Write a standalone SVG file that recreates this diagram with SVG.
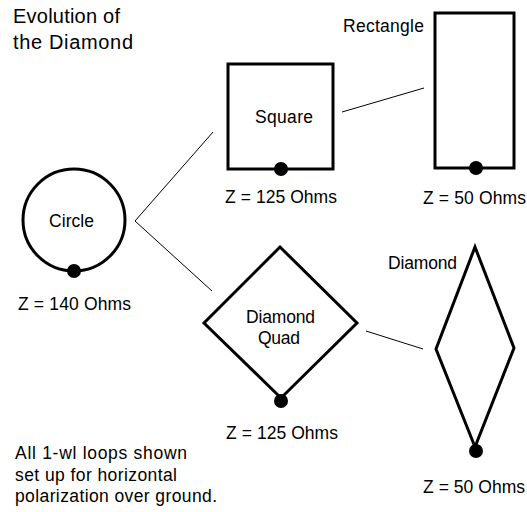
<svg xmlns="http://www.w3.org/2000/svg" width="527" height="512" viewBox="0 0 527 512">
<style>
text{font-family:"Liberation Sans",Arial,sans-serif;font-size:17.5px;fill:#000}
.t{font-size:20px}
.shape{fill:none;stroke:#000;stroke-width:3;stroke-linejoin:miter}
.dot{fill:#000}
.conn line{stroke:#000;stroke-width:1}
</style>
<rect width="527" height="512" fill="#fff"/>
<g id="title">
<text class="t" x="13" y="23" textLength="107" lengthAdjust="spacing">Evolution of</text>
<text class="t" x="13" y="49" textLength="120" lengthAdjust="spacing">the Diamond</text>
</g>
<g class="conn" id="connectors">
<line x1="135" y1="221" x2="213" y2="132"/>
<line x1="135" y1="221" x2="212" y2="291"/>
<line x1="342" y1="112" x2="424" y2="88"/>
<line x1="366" y1="331" x2="423" y2="349"/>
</g>
<g id="circle">
<circle class="shape" cx="74" cy="220" r="51"/>
<circle class="dot" cx="74" cy="271" r="7"/>
<text x="49" y="227" textLength="45" lengthAdjust="spacing">Circle</text>
<text x="18" y="310" textLength="113" lengthAdjust="spacing">Z = 140 Ohms</text>
</g>
<g id="square">
<rect class="shape" x="228" y="64" width="105" height="105"/>
<circle class="dot" cx="281" cy="169" r="7"/>
<text x="255" y="123" textLength="58" lengthAdjust="spacing">Square</text>
<text x="225" y="203" textLength="112" lengthAdjust="spacing">Z = 125 Ohms</text>
</g>
<g id="rectangle">
<rect class="shape" x="435" y="13" width="79" height="155"/>
<circle class="dot" cx="476" cy="168" r="7"/>
<text x="343" y="32" textLength="81" lengthAdjust="spacing">Rectangle</text>
<text x="423" y="204" textLength="103" lengthAdjust="spacing">Z = 50 Ohms</text>
</g>
<g id="diamond-quad">
<polygon class="shape" points="280,247 357,323 281,398 204,323"/>
<circle class="dot" cx="281" cy="401" r="7"/>
<text x="246" y="323" textLength="69" lengthAdjust="spacing">Diamond</text>
<text x="258" y="344" textLength="42" lengthAdjust="spacing">Quad</text>
<text x="226" y="439" textLength="112" lengthAdjust="spacing">Z = 125 Ohms</text>
</g>
<g id="diamond">
<polygon class="shape" points="475,247 514,348 475,447 436,349"/>
<circle class="dot" cx="476" cy="451" r="7"/>
<text x="388" y="269" textLength="69" lengthAdjust="spacing">Diamond</text>
<text x="423" y="493" textLength="102" lengthAdjust="spacing">Z = 50 Ohms</text>
</g>
<g id="note">
<text x="15" y="459" textLength="172" lengthAdjust="spacing">All 1-wl loops shown</text>
<text x="15" y="481" textLength="162" lengthAdjust="spacing">set up for horizontal</text>
<text x="15" y="502" textLength="202" lengthAdjust="spacing">polarization over ground.</text>
</g>
</svg>
